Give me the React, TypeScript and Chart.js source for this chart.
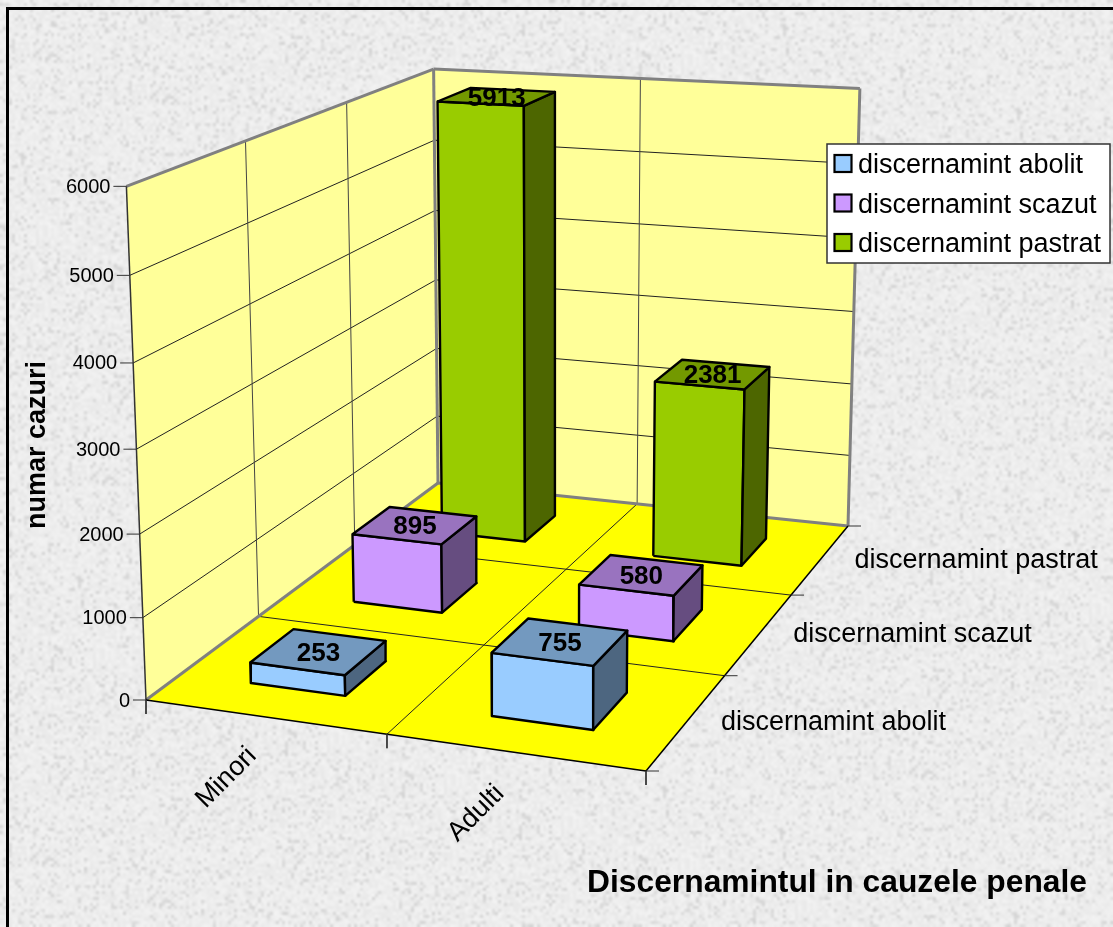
import React, { useEffect, useRef } from "react";
import { Chart, registerables } from "chart.js";

Chart.register(...registerables);

const categories = ["Minori", "Adulti"];
const seriesNames = ["discernamint abolit", "discernamint scazut", "discernamint pastrat"];
const abolitValues = [253, 755];
const scazutValues = [895, 580];
const pastratValues = [5913, 2381];
const valueTicks = [0, 1000, 2000, 3000, 4000, 5000, 6000];
const axisMax = 6000;
const frontColors = ["#99CCFF", "#CC99FF", "#99CC00"];
const topColors = ["#7399BF", "#9973BF", "#739900"];
const sideColors = ["#4D6680", "#664D80", "#4D6600"];

const W = 1113;
const H = 927;
const FONT = '"Liberation Sans", Arial, sans-serif';

// Camera: floor and wall corners of the 3D box as seen on the canvas.
const floor = [[146, 700], [646, 771], [848, 526], [438, 483]];
const wallTops = [
  { px: 0, pz: 0, u: 127, v: 186 },
  { px: 0, pz: 1, u: 433, v: 65 },
  { px: 1, pz: 1, u: 860, v: 93 },
];
const barMarginX = 0.3;
const barMarginZ = 0.3;

function solve3(m: number[][], r: number[]) {
  const a = m.map((row, i) => [...row, r[i]]);
  for (let i = 0; i < 3; i++) {
    let best = i;
    for (let k = i + 1; k < 3; k++) if (Math.abs(a[k][i]) > Math.abs(a[best][i])) best = k;
    [a[i], a[best]] = [a[best], a[i]];
    for (let k = 0; k < 3; k++) {
      if (k === i) continue;
      const f = a[k][i] / a[i][i];
      for (let j = i; j < 4; j++) a[k][j] -= f * a[i][j];
    }
  }
  return [a[0][3] / a[0][0], a[1][3] / a[1][1], a[2][3] / a[2][2]];
}

function makeProjection() {
  const [[x0, y0], [x1, y1], [x2, y2], [x3, y3]] = floor;
  const dx1 = x1 - x2, dx2 = x3 - x2, sx = x0 - x1 + x2 - x3;
  const dy1 = y1 - y2, dy2 = y3 - y2, sy = y0 - y1 + y2 - y3;
  const den = dx1 * dy2 - dx2 * dy1;
  const g = (sx * dy2 - dx2 * sy) / den;
  const h = (dx1 * sy - sx * dy1) / den;
  const a = x1 - x0 + g * x1, b = x3 - x0 + h * x3, c = x0;
  const d = y1 - y0 + g * y1, e = y3 - y0 + h * y3, f = y0;
  // least-squares fit of the vertical column of the camera to the wall tops
  const rows: number[][] = [];
  const rhs: number[] = [];
  wallTops.forEach(({ px, pz, u, v }) => {
    const w0 = g * px + h * pz + 1;
    rows.push([1, 0, -u]);
    rhs.push(u * w0 - (a * px + b * pz + c));
    rows.push([0, 1, -v]);
    rhs.push(v * w0 - (d * px + e * pz + f));
  });
  const ata = [0, 1, 2].map((i) => [0, 1, 2].map((j) => rows.reduce((s, r) => s + r[i] * r[j], 0)));
  const atb = [0, 1, 2].map((i) => rows.reduce((s, r, k) => s + r[i] * rhs[k], 0));
  const [A, B, C] = solve3(ata, atb);
  return (px: number, value: number, pz: number) => {
    const t = value / axisMax;
    const w = g * px + h * pz + C * t + 1;
    return {
      x: (a * px + b * pz + A * t + c) / w,
      y: (d * px + e * pz + B * t + f) / w,
    };
  };
}
const project = makeProjection();

type P = { x: number; y: number };
const shapes: any[] = [];

function poly(points: P[], fillColor: string, line: string, lineWidth: number) {
  shapes.push({
    data: [...points, points[0]],
    showLine: true,
    fill: "shape",
    backgroundColor: fillColor,
    borderColor: line,
    borderWidth: lineWidth,
    pointRadius: 0,
    tension: 0,
    borderJoinStyle: "round",
  });
}
function segment(p: P, q: P, line: string, lineWidth: number) {
  shapes.push({
    data: [p, q],
    showLine: true,
    fill: false,
    borderColor: line,
    borderWidth: lineWidth,
    pointRadius: 0,
    tension: 0,
  });
}
const offset = (p: P, dx: number, dy: number) => ({ x: p.x + dx, y: p.y + dy });

const GRAY = "#808080";
const GRID = "#222222";

// walls and floor
poly([project(0, 0, 0), project(0, axisMax, 0), project(0, axisMax, 1), project(0, 0, 1)], "#FFFF99", GRAY, 0);
poly([project(0, 0, 1), project(0, axisMax, 1), project(1, axisMax, 1), project(1, 0, 1)], "#FFFF99", GRAY, 0);
poly([project(0, 0, 0), project(1, 0, 0), project(1, 0, 1), project(0, 0, 1)], "#FFFF00", GRAY, 0);

// gridlines
valueTicks.slice(1, -1).forEach((v) => {
  segment(project(0, v, 0), project(0, v, 1), GRID, 1);
  segment(project(0, v, 1), project(1, v, 1), GRID, 1);
});
[1, 2].forEach((k) => {
  segment(project(0, 0, k / 3), project(0, axisMax, k / 3), "#444444", 1);
  segment(project(0, 0, k / 3), project(1, 0, k / 3), GRID, 1);
});
segment(project(0.5, 0, 1), project(0.5, axisMax, 1), "#444444", 1);
segment(project(0.5, 0, 0), project(0.5, 0, 1), GRID, 1);

// wall outlines
segment(project(0, axisMax, 0), project(0, axisMax, 1), GRAY, 3);
segment(project(0, axisMax, 1), project(1, axisMax, 1), GRAY, 3);
segment(project(0, axisMax, 1), project(0, 0, 1), GRAY, 3);
segment(project(1, axisMax, 1), project(1, 0, 1), GRAY, 3);
segment(project(0, 0, 0), project(0, 0, 1), GRAY, 3);
segment(project(0, 0, 1), project(1, 0, 1), GRAY, 3);
segment(project(0, 0, 0), project(0, axisMax, 0), "#333333", 1.5);
segment(project(0, 0, 0), project(1, 0, 0), "#000000", 1.5);
segment(project(1, 0, 0), project(1, 0, 1), "#000000", 1.5);

// axis ticks
valueTicks.forEach((v) => {
  const p = project(0, v, 0);
  segment(p, offset(p, -13, 0), "#333333", 1);
});
[0, 0.5, 1].forEach((k) => {
  const p = project(k, 0, 0);
  segment(p, offset(p, 0, 14), "#333333", 1);
});
[0, 1, 2, 3].forEach((k) => {
  const p = project(1, 0, k / 3);
  segment(p, offset(p, 13, 0), "#333333", 1);
});

// bars, far row to near row
const seriesValues = [abolitValues, scazutValues, pastratValues];
const labels: { text: string; at: P }[] = [];
[2, 1, 0].forEach((s) => {
  categories.forEach((_, ci) => {
    const value = seriesValues[s][ci];
    const xa = (ci + barMarginX) / 2;
    const xb = (ci + 1 - barMarginX) / 2;
    const za = (s + barMarginZ) / 3;
    const zb = (s + 1 - barMarginZ) / 3;
    poly([project(xa, 0, za), project(xb, 0, za), project(xb, value, za), project(xa, value, za)], frontColors[s], "#000000", 2.4);
    poly([project(xb, 0, za), project(xb, 0, zb), project(xb, value, zb), project(xb, value, za)], sideColors[s], "#000000", 2.4);
    poly([project(xa, value, za), project(xb, value, za), project(xb, value, zb), project(xa, value, zb)], topColors[s], "#000000", 2.4);
    labels.push({ text: String(value), at: project((xa + xb) / 2, value, (za + zb) / 2) });
  });
});

function noiseTexture() {
  const w = Math.ceil(W / 3);
  const h = Math.ceil(H / 3);
  const small = document.createElement("canvas");
  small.width = w;
  small.height = h;
  const sctx = small.getContext("2d")!;
  const img = sctx.createImageData(w, h);
  let seed = 12345;
  const next = () => {
    seed = (seed * 1103515245 + 12345) & 0x7fffffff;
    return seed / 0x7fffffff;
  };
  for (let i = 0; i < w * h; i++) {
    const r = next();
    const base = r < 0.14 ? 212 + next() * 14 : 232 + next() * 10;
    img.data[i * 4] = base;
    img.data[i * 4 + 1] = base;
    img.data[i * 4 + 2] = base;
    img.data[i * 4 + 3] = 255;
  }
  sctx.putImageData(img, 0, 0);
  return small;
}

const backdrop = {
  id: "backdrop",
  beforeDraw(chart: any) {
    const ctx = chart.ctx;
    ctx.save();
    ctx.imageSmoothingEnabled = true;
    ctx.imageSmoothingQuality = "high";
    ctx.drawImage(noiseTexture(), 0, 0, W, H);
    ctx.fillStyle = "#000000";
    ctx.fillRect(6, 7, W - 6, 3);
    ctx.fillRect(6, 7, 3, H - 7);
    ctx.restore();
  },
};

const annotations = {
  id: "annotations",
  afterDatasetsDraw(chart: any) {
    const ctx = chart.ctx;
    const sx = (v: number) => chart.scales.x.getPixelForValue(v);
    const sy = (v: number) => chart.scales.y.getPixelForValue(v);
    ctx.save();
    ctx.fillStyle = "#000000";
    ctx.textBaseline = "middle";

    // data labels
    ctx.textAlign = "center";
    ctx.font = `bold 26px ${FONT}`;
    labels.forEach((l) => ctx.fillText(l.text, sx(l.at.x), sy(l.at.y) + 2));

    // value axis
    ctx.textAlign = "right";
    ctx.font = `20px ${FONT}`;
    valueTicks.forEach((v) => {
      const p = project(0, v, 0);
      ctx.fillText(String(v), sx(p.x) - 16, sy(p.y) + 1);
    });

    // depth axis
    ctx.textAlign = "left";
    ctx.font = `27px ${FONT}`;
    seriesNames.forEach((name, s) => {
      const p = project(1, 0, (s + 0.5) / 3);
      ctx.fillText(name, sx(p.x) + 34, sy(p.y) + 1);
    });

    // category axis
    categories.forEach((name, i) => {
      const p = project((i + 0.5) / 2, 0, 0);
      ctx.save();
      ctx.translate(sx(p.x) - 38, sy(p.y) + 61);
      ctx.rotate(-Math.PI / 4);
      ctx.textAlign = "center";
      ctx.fillText(name, 0, 0);
      ctx.restore();
    });

    // axis title
    ctx.save();
    ctx.translate(38, 445);
    ctx.rotate(-Math.PI / 2);
    ctx.textAlign = "center";
    ctx.font = `bold 27px ${FONT}`;
    ctx.fillText("numar cazuri", 0, 0);
    ctx.restore();

    // chart title
    ctx.textAlign = "left";
    ctx.font = `bold 32px ${FONT}`;
    ctx.fillText("Discernamintul in cauzele penale", 587, 883, 500);

    // legend
    ctx.fillStyle = "#FFFFFF";
    ctx.strokeStyle = "#333333";
    ctx.lineWidth = 1.5;
    ctx.fillRect(827, 144, 283, 119);
    ctx.strokeRect(827, 144, 283, 119);
    ctx.font = `27px ${FONT}`;
    seriesNames.forEach((name, s) => {
      const y = 164 + s * 39.5;
      ctx.fillStyle = frontColors[s];
      ctx.strokeStyle = "#000000";
      ctx.lineWidth = 2.2;
      ctx.fillRect(834.5, y - 9, 17, 17);
      ctx.strokeRect(834.5, y - 9, 17, 17);
      ctx.fillStyle = "#000000";
      ctx.fillText(name, 858, y + 2);
    });
    ctx.restore();
  },
};

export default function App() {
  const ref = useRef<HTMLCanvasElement>(null);
  useEffect(() => {
    const chart = new Chart(ref.current!, {
      type: "scatter",
      data: { datasets: [...shapes].reverse() },
      options: {
        animation: false,
        responsive: false,
        layout: { padding: 0 },
        plugins: { legend: { display: false }, tooltip: { enabled: false } },
        scales: {
          x: { type: "linear", min: 0, max: W, display: false },
          y: { type: "linear", min: 0, max: H, reverse: true, display: false },
        },
      },
      plugins: [backdrop, annotations],
    } as any);
    return () => chart.destroy();
  }, []);
  return (
    <div style={{ position: "absolute", left: 0, top: 0, width: W, height: H }}>
      <canvas ref={ref} width={W} height={H} style={{ display: "block" }} />
    </div>
  );
}
